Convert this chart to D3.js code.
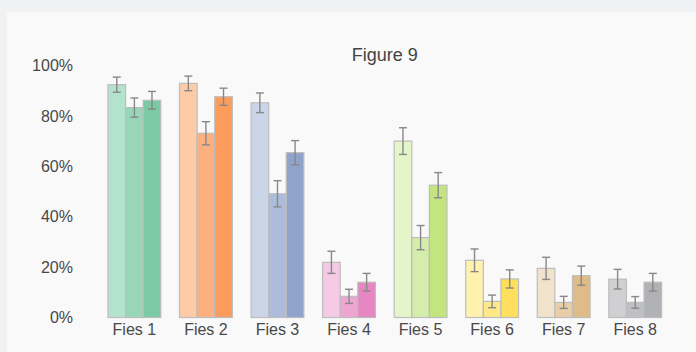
<!DOCTYPE html>
<html>
<head>
<meta charset="utf-8">
<script src="https://cdn.jsdelivr.net/npm/d3@7"></script>
<style>
  html, body { margin: 0; padding: 0; background: #f0f1f3; }
  svg { display: block; font-family: "Liberation Sans", Arial, sans-serif; }
</style>
</head>
<body>
<svg id="chart" width="696" height="352"></svg>
<script>
// Categories and three series per category (percent), with error half-widths
const categories = ["Fies 1", "Fies 2", "Fies 3", "Fies 4", "Fies 5", "Fies 6", "Fies 7", "Fies 8"];
const seriesA = [92.4, 92.9, 85.2, 21.9, 70.0, 22.7, 19.5, 15.2];
const seriesB = [83.3, 73.1, 49.1, 8.4, 31.7, 6.4, 6.0, 6.0];
const seriesC = [86.2, 87.6, 65.4, 14.0, 52.5, 15.3, 16.6, 14.0];
const errA = [3.0, 2.9, 3.9, 4.4, 5.3, 4.5, 4.4, 3.9];
const errB = [3.8, 4.6, 5.2, 2.8, 4.8, 2.5, 2.4, 2.3];
const errC = [3.5, 3.4, 4.8, 3.5, 5.0, 3.6, 3.8, 3.5];
const yTicks = [0, 20, 40, 60, 80, 100];
const title = "Figure 9";

// Per-category colour ramps (light → dark)
const palette = [
  ["#b3e2cd", "#98d6b8", "#7ccaa5"],
  ["#fdcca7", "#fcb080", "#fb9c5c"],
  ["#cbd5e8", "#adbcdb", "#8fa3cb"],
  ["#f4cae4", "#eda6d2", "#e686c2"],
  ["#e6f5c9", "#d4edab", "#c3e57f"],
  ["#fff2ae", "#ffe887", "#ffdf5e"],
  ["#f1e2cc", "#e8cea6", "#dfbc87"],
  ["#d0d0d2", "#bfc0c3", "#b1b2b5"]
];

const seriesKeys = ["a", "b", "c"];
const table = categories.map((c, i) => ({
  cat: c,
  idx: i,
  values: [
    { key: "a", v: seriesA[i], e: errA[i], s: 0 },
    { key: "b", v: seriesB[i], e: errB[i], s: 1 },
    { key: "c", v: seriesC[i], e: errC[i], s: 2 }
  ]
}));

const svg = d3.select("#chart");

// Panel background
svg.append("rect").attr("x", 0).attr("y", 0).attr("width", 696).attr("height", 352).attr("fill", "#f0f1f3");
svg.append("rect").attr("x", 7).attr("y", 12).attr("width", 689).attr("height", 340).attr("fill", "#f9f9f9");

const plot = { left: 98.6, right: 671, top: 65.5, bottom: 317.5 };

const x0 = d3.scaleBand().domain(categories).range([plot.left, plot.right]).paddingInner(0.262).paddingOuter(0.131);
const x1 = d3.scaleBand().domain(seriesKeys).range([0, x0.bandwidth()]).padding(0);
const y = d3.scaleLinear().domain([0, 100]).range([plot.bottom, plot.top]);

// Title
svg.append("text")
  .attr("x", (plot.left + plot.right) / 2)
  .attr("y", 61)
  .attr("text-anchor", "middle")
  .attr("font-size", 18)
  .attr("fill", "#444")
  .text(title);

// Y axis (labels only)
const yAxis = d3.axisLeft(y).tickValues(yTicks).tickFormat(d => d + "%").tickSize(0).tickPadding(0);
const gy = svg.append("g").attr("transform", `translate(73,0)`).call(yAxis);
gy.select(".domain").remove();
gy.selectAll("text").attr("font-size", 16).attr("fill", "#484848").attr("font-family", "Liberation Sans, Arial, sans-serif");

// X axis (labels only)
const xAxis = d3.axisBottom(x0).tickSize(0).tickPadding(0);
const gx = svg.append("g").attr("transform", `translate(0,${plot.bottom + 6})`).call(xAxis);
gx.select(".domain").remove();
gx.selectAll("text").attr("font-size", 16).attr("fill", "#484848").attr("font-family", "Liberation Sans, Arial, sans-serif");

// Bars
const groups = svg.append("g").selectAll("g")
  .data(table).join("g")
  .attr("transform", d => `translate(${x0(d.cat)},0)`);

groups.selectAll("rect")
  .data(d => d.values.map(v => ({ ...v, idx: d.idx })))
  .join("rect")
  .attr("x", d => x1(d.key))
  .attr("y", d => y(d.v))
  .attr("width", x1.bandwidth())
  .attr("height", d => y(0) - y(d.v))
  .attr("fill", d => palette[d.idx][d.s])
  .attr("stroke", "#bdbdbd")
  .attr("stroke-width", 1.2);

// Error bars
const eb = groups.selectAll("g.err")
  .data(d => d.values)
  .join("g").attr("class", "err")
  .attr("stroke", "#888")
  .attr("stroke-width", 1.4);

const cx = d => x1(d.key) + x1.bandwidth() / 2;
eb.append("line").attr("x1", cx).attr("x2", cx).attr("y1", d => y(d.v + d.e)).attr("y2", d => y(d.v - d.e));
eb.append("line").attr("x1", d => cx(d) - 4).attr("x2", d => cx(d) + 4).attr("y1", d => y(d.v + d.e)).attr("y2", d => y(d.v + d.e));
eb.append("line").attr("x1", d => cx(d) - 4).attr("x2", d => cx(d) + 4).attr("y1", d => y(d.v - d.e)).attr("y2", d => y(d.v - d.e));
</script>
</body>
</html>
